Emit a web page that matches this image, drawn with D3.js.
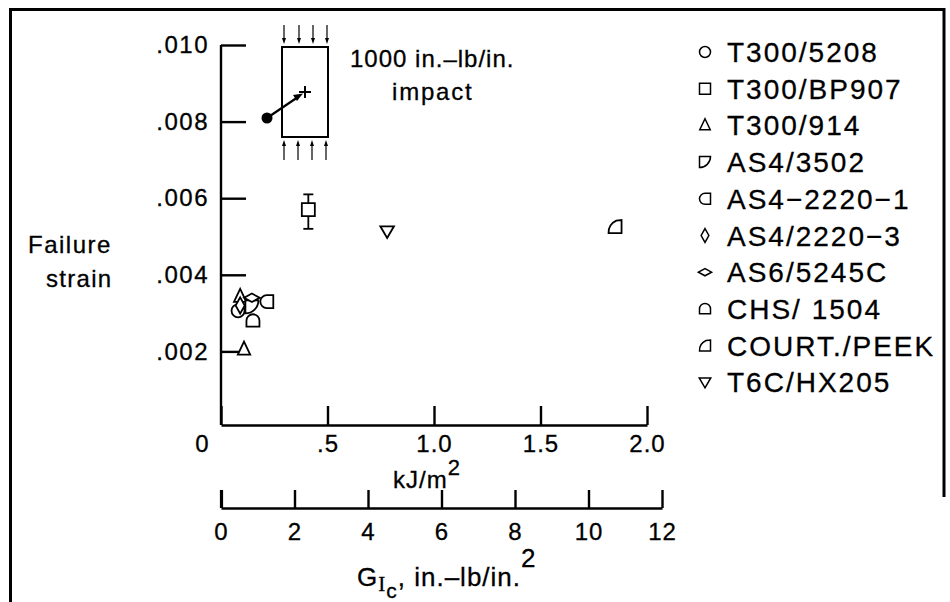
<!DOCTYPE html>
<html><head><meta charset="utf-8">
<script src="https://cdn.jsdelivr.net/npm/d3@7"></script>
<style>
html,body{margin:0;padding:0;background:#fff;}
text{font-family:"Liberation Sans",Arial,Helvetica,sans-serif;fill:#000;stroke:#000;stroke-width:0.3px;}
</style></head>
<body>
<svg id="c" width="950" height="602"></svg>
<script>
// ---------- DATA ----------
const seriesNames = ["T300/5208","T300/BP907","T300/914","AS4/3502","AS4-2220-1","AS4/2220-3","AS6/5245C","CHS/1504","COURT./PEEK","T6C/HX205"];
const legendLabels = ["T300/5208","T300/BP907","T300/914","AS4/3502","AS4\u22122220\u22121","AS4/2220\u22123","AS6/5245C","CHS/ 1504","COURT./PEEK","T6C/HX205"];
const seriesShapes = ["circle","square","triUp","quarterTL","roundLeft","diamondTall","diamondWide","dome","quarterBR","triDown"];
// points: series index, G_Ic (kJ/m^2), failure strain
const pointSeries = [0, 1, 2, 2, 3, 4, 5, 6, 7, 8, 9];
const pointGIc    = [0.08, 0.41, 0.09, 0.108, 0.145, 0.215, 0.09, 0.145, 0.15, 1.85, 0.78];
const pointStrain = [0.00306, 0.0057, 0.00343, 0.00205, 0.00316, 0.0033, 0.0032, 0.0034, 0.0028, 0.00526, 0.00513];
// error bar for T300/BP907
const errSeries = [1];
const errGIc  = [0.41];
const errLow  = [0.0052];
const errHigh = [0.0061];
// axes ticks
const yTicks = [0.002, 0.004, 0.006, 0.008, 0.010];
const yTickLabels = [".002", ".004", ".006", ".008", ".010"];
const xTicks = [0, 0.5, 1.0, 1.5, 2.0];
const xTickLabels = ["0", ".5", "1.0", "1.5", "2.0"];
const x2Ticks = [0, 2, 4, 6, 8, 10, 12];
const x2TickLabels = ["0","2","4","6","8","10","12"];

// ---------- LAYOUT ----------
const svg = d3.select("#c");
svg.append("rect").attr("width",950).attr("height",602).attr("fill","#fff");
const FONT = 24;

const x = d3.scaleLinear().domain([0, 2]).range([221, 647]);
const x2 = d3.scaleLinear().domain([0, 12]).range([221, 662]);
const y = d3.scaleLinear().domain([0, 0.010]).range([428, 45]);

// frame
svg.append("path").attr("d","M10.5,602 L10.5,9.5 L944,9.5 L944,497")
  .attr("fill","none").attr("stroke","#000").attr("stroke-width",3);

// Y axis
const yAxis = svg.append("g").attr("transform","translate(221,0)")
  .call(d3.axisLeft(y).tickValues(yTicks).tickFormat((d,i)=>yTickLabels[i])
    .tickSizeInner(-25).tickSizeOuter(0).tickPadding(12));
yAxis.select(".domain").attr("d","M0,45V425").attr("stroke-width",2.4);
yAxis.selectAll(".tick line").attr("stroke-width",2.4);
yAxis.selectAll("text").attr("font-size",FONT).attr("letter-spacing",1.5).attr("font-family",null);

// X axis (kJ/m2)
const xAxis = svg.append("g").attr("transform","translate(0,425)")
  .call(d3.axisBottom(x).tickValues(xTicks).tickFormat((d,i)=>xTickLabels[i])
    .tickSizeInner(-19).tickSizeOuter(0).tickPadding(10));
xAxis.select(".domain").attr("stroke-width",2.4);
xAxis.selectAll(".tick line").attr("stroke-width",2.4);
xAxis.selectAll("text").attr("font-size",FONT).attr("letter-spacing",1).attr("font-family",null);
xAxis.selectAll(".tick").filter(d=>d===0).select("text").attr("dx",-19);

// second X axis (in-lb/in2)
const x2Axis = svg.append("g").attr("transform","translate(0,508)")
  .call(d3.axisBottom(x2).tickValues(x2Ticks).tickFormat((d,i)=>x2TickLabels[i])
    .tickSizeInner(-18).tickSizeOuter(0).tickPadding(15));
x2Axis.select(".domain").attr("stroke-width",2.4);
x2Axis.selectAll(".tick line").attr("stroke-width",2.4);
x2Axis.selectAll(".tick").filter(d=>d===0).select("line").attr("stroke-width",3.2);
x2Axis.selectAll("text").attr("font-size",FONT).attr("letter-spacing",1).attr("font-family",null);

// axis titles
const t1 = svg.append("text").attr("x",393).attr("y",488).attr("font-size",FONT).attr("letter-spacing",1);
t1.append("tspan").text("kJ/m");
t1.append("tspan").attr("dy",-13).attr("font-size",22).text("2");

const t2 = svg.append("text").attr("x",357).attr("y",586).attr("font-size",26).attr("letter-spacing",1);
t2.append("tspan").text("G");
t2.append("tspan").attr("dy",5).attr("font-size",21).attr("font-family","Liberation Serif").text("I");
t2.append("tspan").attr("dy",7).attr("font-size",21).text("c");
t2.append("tspan").attr("dy",-12).text(", in.\u2013lb/in.");
t2.append("tspan").attr("dy",-19).attr("font-size",26).text("2");

svg.append("text").attr("x",28).attr("y",253).attr("font-size",FONT).attr("letter-spacing",1.5).text("Failure");
svg.append("text").attr("x",46).attr("y",287).attr("font-size",FONT).attr("letter-spacing",1.3).text("strain");

// ---------- SHAPES ----------
function shapePath(kind, r){
  switch(kind){
    case "circle": return `M${r},0A${r},${r} 0 1 1 ${-r},0A${r},${r} 0 1 1 ${r},0Z`;
    case "square": return `M${-r},${-r}H${r}V${r}H${-r}Z`;
    case "triUp": return `M0,${-r*1.2}L${r*0.95},${r*0.8}L${-r*0.95},${r*0.8}Z`;
    case "triDown": return `M0,${r*1.0}L${r*1.05},${-r*0.8}L${-r*1.05},${-r*0.8}Z`;
    case "quarterTL": return `M${-r},${-r}L${r},${-r}A${2*r},${2*r} 0 0 1 ${-r},${r}Z`;
    case "quarterBR": return `M${r},${r}L${-r},${r}A${2*r},${2*r} 0 0 1 ${r*0.2},${-r*0.92}L${r},${-r}Z`;
    case "roundLeft": return `M${r},${-r}L0,${-r}A${r},${r} 0 0 0 0,${r}L${r},${r}Z`;
    case "diamondTall": return `M0,${-r*1.25}L${r*0.7},0L0,${r*1.25}L${-r*0.7},0Z`;
    case "diamondWide": return `M${-r*1.2},0L0,${-r*0.65}L${r*1.2},0L0,${r*0.65}Z`;
    case "dome": return `M${-r},${r*0.9}L${r},${r*0.9}L${r},0A${r},${r} 0 0 0 ${-r},0Z`;
  }
}

// error bars
const eb = svg.append("g").attr("stroke","#000").attr("stroke-width",1.8).attr("fill","none");
errSeries.forEach((s,i)=>{
  const cx = x(errGIc[i]);
  eb.append("line").attr("x1",cx).attr("x2",cx).attr("y1",y(errHigh[i])).attr("y2",y(errLow[i]));
  eb.append("line").attr("x1",cx-5).attr("x2",cx+5).attr("y1",y(errHigh[i])).attr("y2",y(errHigh[i]));
  eb.append("line").attr("x1",cx-5).attr("x2",cx+5).attr("y1",y(errLow[i])).attr("y2",y(errLow[i]));
});

// points
svg.append("g").selectAll("path").data(pointSeries).join("path")
  .attr("transform",(s,i)=>`translate(${x(pointGIc[i])},${y(pointStrain[i])})`)
  .attr("d",s=>shapePath(seriesShapes[s],6.5))
  .attr("fill","#fff").attr("stroke","#000").attr("stroke-width",1.8);

// legend
const lg = svg.append("g");
const rowY = i => 52 + i*36.7;
lg.selectAll("path").data(seriesNames).join("path")
  .attr("transform",(d,i)=>`translate(705,${rowY(i)})`)
  .attr("d",(d,i)=>shapePath(seriesShapes[i],5.5))
  .attr("fill","#fff").attr("stroke","#000").attr("stroke-width",1.5);
lg.selectAll("text").data(legendLabels).join("text")
  .attr("x",727).attr("y",(d,i)=>rowY(i)+10)
  .attr("font-size",28).attr("letter-spacing",2).text(d=>d);

// ---------- INSET ----------
const ins = svg.append("g").attr("stroke","#000").attr("fill","none");
ins.append("rect").attr("x",282).attr("y",47).attr("width",46).attr("height",90).attr("stroke-width",2);
[284,299,313,327].forEach(ax=>{
  ins.append("line").attr("x1",ax).attr("x2",ax).attr("y1",25).attr("y2",40).attr("stroke-width",1.2);
  ins.append("path").attr("d",`M${ax-2},38L${ax+2},38L${ax},44Z`).attr("fill","#000").attr("stroke","none");
});
[284,298,312,326].forEach(ax=>{
  ins.append("line").attr("x1",ax).attr("x2",ax).attr("y1",144).attr("y2",160).attr("stroke-width",1.2);
  ins.append("path").attr("d",`M${ax-2},146L${ax+2},146L${ax},140Z`).attr("fill","#000").attr("stroke","none");
});
ins.append("circle").attr("cx",267).attr("cy",118).attr("r",5.5).attr("fill","#000").attr("stroke","none");
ins.append("line").attr("x1",267).attr("y1",118).attr("x2",298).attr("y2",97).attr("stroke-width",2.2);
ins.append("path").attr("d","M303,93.5L293,95L297,101Z").attr("fill","#000").attr("stroke","none");
ins.append("line").attr("x1",299).attr("x2",311).attr("y1",92).attr("y2",92).attr("stroke-width",2);
ins.append("line").attr("x1",305).attr("x2",305).attr("y1",86).attr("y2",98).attr("stroke-width",2);
svg.append("text").attr("x",350).attr("y",67).attr("font-size",FONT).attr("letter-spacing",1).text("1000 in.\u2013lb/in.");
svg.append("text").attr("x",392).attr("y",100).attr("font-size",FONT).attr("letter-spacing",1.8).text("impact");
</script>
</body></html>
